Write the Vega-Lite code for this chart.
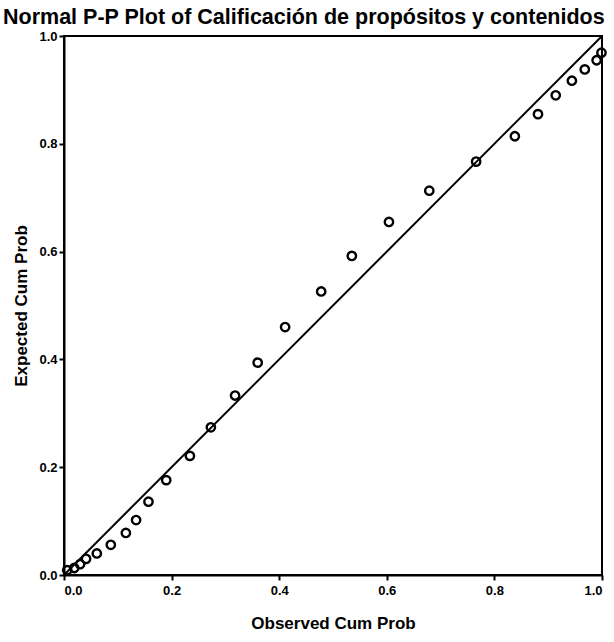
{
  "$schema": "https://vega.github.io/schema/vega-lite/v6.json",
  "autosize": "none",
  "width": 538,
  "height": 539,
  "padding": {"left": 64, "top": 36, "right": 12, "bottom": 67},
  "background": "white",
  "title": {
    "text": "Normal P-P Plot of Calificación de propósitos y contenidos",
    "anchor": "start",
    "frame": "group",
    "dx": -61,
    "dy": 25,
    "offset": 10,
    "baseline": "alphabetic",
    "font": "Liberation Sans",
    "fontSize": 21.5,
    "fontWeight": "bold",
    "color": "black"
  },
  "config": {
    "view": {"stroke": "black", "strokeWidth": 2},
    "axis": {
      "grid": false,
      "domainColor": "black",
      "domainWidth": 2,
      "tickColor": "black",
      "tickWidth": 2,
      "tickSize": 5,
      "labelFont": "Liberation Sans",
      "labelFontSize": 13,
      "labelFontWeight": "bold",
      "labelColor": "black",
      "titleFont": "Liberation Sans",
      "titleFontSize": 17,
      "titleFontWeight": "bold",
      "titleColor": "black"
    }
  },
  "datasets": {
    "pts": [
      {"observed": 0.006, "expected": 0.009},
      {"observed": 0.019, "expected": 0.013},
      {"observed": 0.030, "expected": 0.020},
      {"observed": 0.041, "expected": 0.030},
      {"observed": 0.061, "expected": 0.040},
      {"observed": 0.087, "expected": 0.056},
      {"observed": 0.115, "expected": 0.078},
      {"observed": 0.134, "expected": 0.102},
      {"observed": 0.157, "expected": 0.136},
      {"observed": 0.190, "expected": 0.176},
      {"observed": 0.234, "expected": 0.221},
      {"observed": 0.273, "expected": 0.274},
      {"observed": 0.318, "expected": 0.333},
      {"observed": 0.360, "expected": 0.394},
      {"observed": 0.411, "expected": 0.460},
      {"observed": 0.478, "expected": 0.526},
      {"observed": 0.535, "expected": 0.592},
      {"observed": 0.604, "expected": 0.655},
      {"observed": 0.679, "expected": 0.713},
      {"observed": 0.766, "expected": 0.767},
      {"observed": 0.838, "expected": 0.814},
      {"observed": 0.881, "expected": 0.855},
      {"observed": 0.914, "expected": 0.890},
      {"observed": 0.944, "expected": 0.917},
      {"observed": 0.968, "expected": 0.938},
      {"observed": 0.990, "expected": 0.955},
      {"observed": 0.999, "expected": 0.969}
    ],
    "diag": [
      {"observed": 0, "expected": 0},
      {"observed": 1, "expected": 1}
    ]
  },
  "layer": [
    {
      "data": {"name": "diag"},
      "mark": {"type": "line", "color": "black", "strokeWidth": 2, "clip": true},
      "encoding": {
        "x": {"field": "observed", "type": "quantitative"},
        "y": {"field": "expected", "type": "quantitative"}
      }
    },
    {
      "data": {"name": "pts"},
      "mark": {"type": "point", "shape": "circle", "filled": false, "color": "black", "strokeWidth": 2.4, "size": 70, "opacity": 1},
      "encoding": {
        "x": {
          "field": "observed", "type": "quantitative",
          "scale": {"domain": [0, 1], "nice": false, "zero": false},
          "axis": {"title": "Observed Cum Prob", "values": [0, 0.2, 0.4, 0.6, 0.8, 1.0], "format": ".1f", "labelPadding": 4, "titlePadding": 18}
        },
        "y": {
          "field": "expected", "type": "quantitative",
          "scale": {"domain": [0, 1], "nice": false, "zero": false},
          "axis": {"title": "Expected Cum Prob", "values": [0, 0.2, 0.4, 0.6, 0.8, 1.0], "format": ".1f", "labelPadding": 2, "titlePadding": 8}
        }
      }
    }
  ]
}
